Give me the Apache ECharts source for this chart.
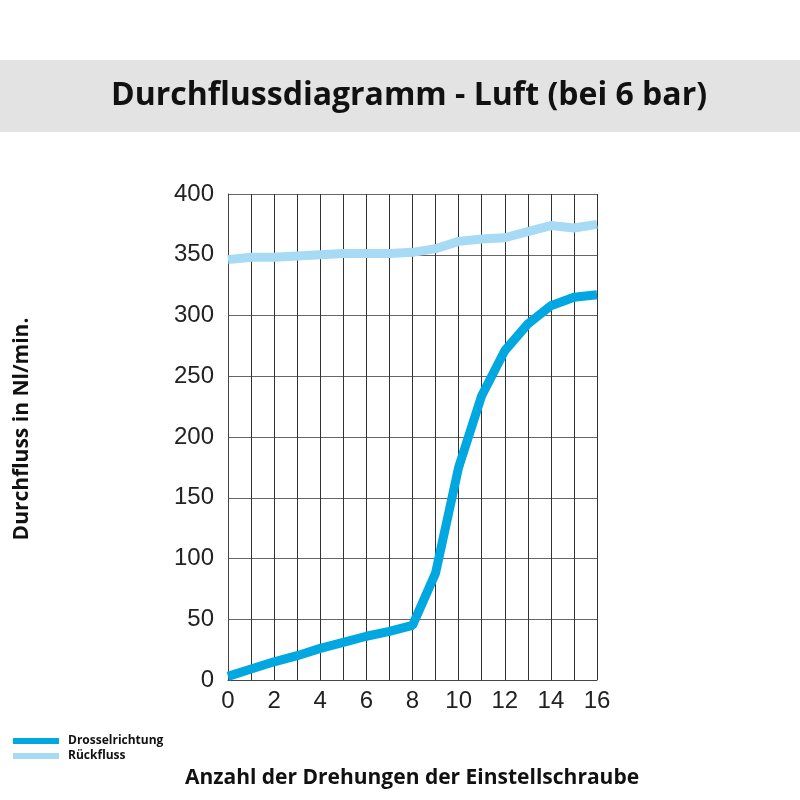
<!DOCTYPE html>
<html>
<head>
<meta charset="utf-8">
<script src="https://cdn.jsdelivr.net/npm/echarts@6/dist/echarts.min.js"></script>
<style>
  html, body { margin: 0; padding: 0; background: #fff; }
  #chart { width: 800px; height: 800px; }
</style>
</head>
<body>
<div id="chart"></div>
<script>
// turns of the adjusting screw
const turns = [0, 1, 2, 3, 4, 5, 6, 7, 8, 9, 10, 11, 12, 13, 14, 15, 16];
// flow in Nl/min
const drosselrichtung = [3, 9, 15, 20, 26, 31, 36, 40, 45, 88, 175, 234, 271, 293, 308, 315, 317];
const rueckfluss = [346, 348, 348, 349, 350, 351, 351, 351, 352, 355, 361, 363, 364, 369, 374, 372, 375];

const chart = echarts.init(document.getElementById('chart'));

const toPairs = vals => turns.map((t, i) => [t, vals[i]]);

chart.setOption({
  animation: false,
  graphic: [
    {
      type: 'rect',
      shape: { x: 0, y: 60, width: 800, height: 72 },
      style: { fill: '#e3e3e3' },
      silent: true
    },
    {
      type: 'text',
      x: 409,
      y: 96,
      style: {
        text: 'Durchflussdiagramm - Luft (bei 6 bar)',
        font: 'bold 32px "Open Sans"',
        fill: '#111',
        align: 'center',
        verticalAlign: 'middle'
      }
    },
    {
      type: 'text',
      x: 412,
      y: 778,
      style: {
        text: 'Anzahl der Drehungen der Einstellschraube',
        font: 'bold 21px "Open Sans"',
        fill: '#111',
        align: 'center',
        verticalAlign: 'middle'
      }
    },
    {
      type: 'text',
      x: 22,
      y: 429,
      rotation: Math.PI / 2,
      style: {
        text: 'Durchfluss in Nl/min.',
        font: 'bold 21px "Open Sans"',
        fill: '#111',
        align: 'center',
        verticalAlign: 'middle'
      }
    }
  ],
  legend: {
    orient: 'vertical',
    left: 13,
    top: 735,
    padding: 0,
    itemWidth: 46,
    itemHeight: 6,
    itemGap: 3,
    icon: 'rect',
    textStyle: { fontFamily: 'Open Sans', fontWeight: 'bold', fontSize: 12, color: '#111', padding: [0, 0, 0, 4] },
    data: ['Drosselrichtung', 'Rückfluss']
  },
  grid: { left: 228, right: 203, top: 194, bottom: 120 },
  xAxis: {
    type: 'value',
    min: 0,
    max: 16,
    interval: 1,
    axisLine: { lineStyle: { color: '#444', width: 1 } },
    axisTick: { show: false },
    axisLabel: {
      formatter: v => (v % 2 === 0 ? String(v) : ''),
      fontFamily: 'Liberation Sans',
      fontSize: 24,
      color: '#222',
      margin: 9
    },
    splitLine: { show: true, lineStyle: { color: '#333', width: 1 } }
  },
  yAxis: {
    type: 'value',
    min: 0,
    max: 400,
    interval: 50,
    axisLine: { show: true, lineStyle: { color: '#444', width: 1 } },
    axisTick: { show: false },
    axisLabel: {
      fontFamily: 'Liberation Sans',
      fontSize: 24,
      color: '#222',
      margin: 14
    },
    splitLine: { show: true, lineStyle: { color: '#666', width: 1 } }
  },
  series: [
    {
      name: 'Drosselrichtung',
      type: 'line',
      data: toPairs(drosselrichtung),
      symbol: 'none',
      color: '#00a7e1',
      lineStyle: { width: 9, color: '#00a7e1' },
      z: 3
    },
    {
      name: 'Rückfluss',
      type: 'line',
      data: toPairs(rueckfluss),
      symbol: 'none',
      color: '#a6daf5',
      lineStyle: { width: 9, color: '#a6daf5' },
      z: 2
    }
  ]
});
</script>
</body>
</html>
